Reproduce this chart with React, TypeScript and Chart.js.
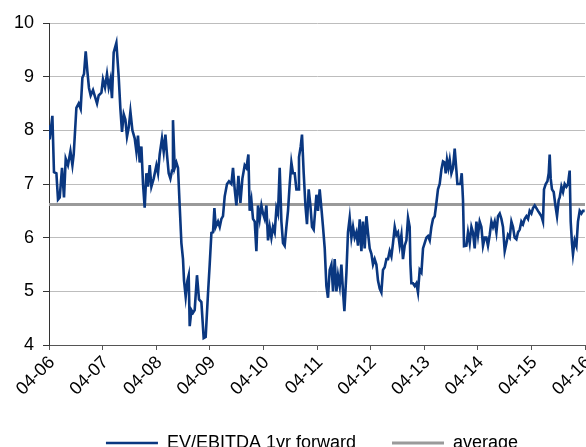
import React, { useEffect, useRef } from "react";
import { Chart, registerables } from "chart.js";

Chart.register(...registerables);

// Time in years since April 2006, and the forward EV/EBITDA multiple at that time.
const years: number[] = [
  0.0, 0.013, 0.063, 0.093, 0.138, 0.168, 0.2, 0.243, 0.28, 0.312, 0.354, 0.4, 0.437, 0.461, 0.511, 0.554,
  0.591, 0.623, 0.653, 0.685, 0.716, 0.746, 0.778, 0.821, 0.866, 0.896, 0.927, 0.978, 1.007, 1.045, 1.082,
  1.114, 1.146, 1.175, 1.207, 1.257, 1.3, 1.332, 1.362, 1.394, 1.425, 1.455, 1.487, 1.519, 1.556, 1.599,
  1.631, 1.66, 1.692, 1.724, 1.754, 1.785, 1.817, 1.847, 1.879, 1.91, 1.953, 2.004, 2.034, 2.065, 2.108,
  2.14, 2.172, 2.201, 2.233, 2.265, 2.295, 2.313, 2.345, 2.377, 2.407, 2.438, 2.47, 2.5, 2.519, 2.55, 2.582,
  2.606, 2.625, 2.657, 2.687, 2.718, 2.761, 2.799, 2.843, 2.886, 2.923, 2.966, 2.998, 3.03, 3.06, 3.086,
  3.11, 3.153, 3.185, 3.216, 3.246, 3.278, 3.321, 3.358, 3.403, 3.433, 3.465, 3.496, 3.534, 3.571, 3.608,
  3.651, 3.683, 3.72, 3.744, 3.776, 3.806, 3.838, 3.869, 3.899, 3.931, 3.963, 3.993, 4.024, 4.056, 4.086,
  4.118, 4.149, 4.179, 4.211, 4.243, 4.272, 4.304, 4.336, 4.366, 4.397, 4.429, 4.459, 4.491, 4.522, 4.552,
  4.584, 4.616, 4.646, 4.664, 4.696, 4.72, 4.752, 4.784, 4.813, 4.845, 4.877, 4.907, 4.938, 4.989, 5.019,
  5.05, 5.082, 5.112, 5.144, 5.175, 5.205, 5.237, 5.269, 5.299, 5.33, 5.362, 5.392, 5.424, 5.455, 5.485,
  5.511, 5.549, 5.578, 5.61, 5.642, 5.672, 5.703, 5.735, 5.765, 5.797, 5.828, 5.858, 5.89, 5.922, 5.951,
  5.983, 6.015, 6.045, 6.076, 6.108, 6.138, 6.17, 6.201, 6.231, 6.263, 6.295, 6.325, 6.356, 6.388, 6.418,
  6.45, 6.481, 6.511, 6.543, 6.575, 6.604, 6.636, 6.668, 6.698, 6.729, 6.743, 6.761, 6.791, 6.823, 6.854,
  6.884, 6.916, 6.948, 6.978, 7.009, 7.041, 7.071, 7.103, 7.134, 7.164, 7.196, 7.228, 7.257, 7.289, 7.321,
  7.351, 7.382, 7.401, 7.425, 7.451, 7.476, 7.507, 7.537, 7.569, 7.601, 7.619, 7.649, 7.675, 7.7, 7.724,
  7.743, 7.787, 7.817, 7.849, 7.881, 7.91, 7.942, 7.974, 8.004, 8.035, 8.067, 8.097, 8.129, 8.16, 8.19,
  8.222, 8.254, 8.284, 8.315, 8.347, 8.377, 8.409, 8.44, 8.47, 8.502, 8.534, 8.563, 8.595, 8.627, 8.657,
  8.688, 8.72, 8.75, 8.782, 8.813, 8.843, 8.875, 8.907, 8.937, 8.968, 9.0, 9.03, 9.062, 9.093, 9.123,
  9.155, 9.187, 9.216, 9.235, 9.267, 9.299, 9.323, 9.341, 9.36, 9.384, 9.416, 9.448, 9.478, 9.509, 9.528,
  9.56, 9.59, 9.621, 9.653, 9.683, 9.714, 9.733, 9.757, 9.776, 9.808, 9.84, 9.869, 9.901, 9.933, 9.963,
  9.994,
];

const evEbitda: number[] = [
  8.1, 7.83, 8.27, 7.22, 7.2, 6.71, 6.75, 7.3, 6.75, 7.47, 7.35, 7.61, 7.35, 7.55, 8.42, 8.5,
  8.4, 8.98, 9.05, 9.47, 9.1, 8.79, 8.65, 8.75, 8.6, 8.5, 8.65, 8.7, 8.95, 8.8, 9.05,
  8.8, 8.95, 8.6, 9.45, 9.63, 9.0, 8.4, 7.97, 8.3, 8.2, 7.88, 8.05, 8.35, 8.0, 7.85,
  7.6, 7.9, 7.4, 7.7, 7.0, 6.56, 7.2, 6.95, 7.35, 6.95, 7.1, 7.35, 7.2, 7.55, 7.85,
  7.6, 7.92, 7.55, 7.2, 7.1, 7.25, 8.19, 7.3, 7.4, 7.3, 6.6, 5.9, 5.6, 5.2, 4.9, 5.2,
  5.3, 4.35, 4.65, 4.6, 4.65, 5.3, 4.85, 4.8, 4.13, 4.15, 4.95, 5.5, 6.09, 6.1, 6.55,
  6.2, 6.3, 6.2, 6.35, 6.4, 6.77, 7.0, 7.05, 7.0, 7.3, 6.9, 6.6, 7.15, 6.65, 7.1,
  7.35, 7.3, 7.55, 6.5, 6.7, 6.35, 6.3, 5.75, 6.6, 6.35, 6.6, 6.45, 6.35, 6.6, 5.95,
  6.2, 6.0, 6.2, 6.1, 6.55, 6.45, 7.3, 6.3, 5.9, 5.85, 6.2, 6.5, 7.0, 7.4, 7.2,
  7.2, 6.9, 6.9, 7.5, 7.7, 7.92, 7.2, 6.6, 6.25, 6.9, 6.6, 6.2, 6.15, 6.8, 6.5,
  6.9, 6.55, 6.2, 5.8, 5.1, 4.88, 5.4, 5.5, 5.0, 5.6, 5.0, 5.3, 5.1, 5.5, 5.0,
  4.63, 5.35, 6.1, 6.37, 6.0, 6.2, 6.0, 6.1, 5.85, 6.34, 5.75, 6.3, 5.8, 6.4, 6.1,
  5.8, 5.7, 5.5, 5.6, 5.5, 5.2, 5.05, 4.98, 5.4, 5.45, 5.6, 5.6, 5.75, 5.65, 5.9,
  6.2, 6.05, 6.1, 5.85, 6.05, 5.6, 5.85, 5.95, 6.37, 6.2, 5.5, 5.15, 5.15, 5.1, 5.15,
  4.98, 5.4, 5.35, 5.8, 5.9, 6.0, 6.03, 5.95, 6.2, 6.35, 6.4, 6.65, 6.9, 7.0, 7.27,
  7.42, 7.4, 7.2, 7.45, 7.3, 7.45, 7.2, 7.3, 7.66, 7.25, 7.0, 7.0, 7.0, 7.2, 6.7,
  5.84, 5.85, 6.1, 5.9, 6.2, 6.1, 5.8, 6.3, 6.05, 6.3, 6.2, 5.85, 6.0, 6.0, 5.85,
  6.05, 6.3, 6.2, 6.3, 6.1, 6.4, 6.45, 6.35, 6.2, 5.75, 5.9, 6.05, 6.0, 6.3, 6.2,
  6.0, 5.97, 6.1, 6.15, 6.3, 6.25, 6.35, 6.4, 6.35, 6.5, 6.45, 6.55, 6.6, 6.55, 6.5,
  6.45, 6.4, 6.3, 6.9, 7.0, 7.05, 7.2, 7.55, 7.1, 6.9, 6.85, 6.6, 6.4, 6.7, 6.75,
  6.95, 6.85, 7.0, 6.95, 7.0, 7.25, 6.3, 5.9, 5.69, 5.95, 5.85, 6.3, 6.5, 6.45, 6.5,
  6.5,
];

// Long-run average of the multiple over the whole period.
const averageValue = 6.62;

// Axis tick labels, one per April from 2006 to 2016.
const yearLabels: string[] = [
  "04-06", "04-07", "04-08", "04-09", "04-10", "04-11", "04-12", "04-13", "04-14", "04-15", "04-16",
];

const seriesLabel = "EV/EBITDA 1yr forward";
const averageLabel = "average";

const FONT = "'Liberation Sans', Arial, sans-serif";

// Nudges the bottom legend a little to the left of the plot-area centre.
const legendShift = {
  id: "legendShift",
  afterLayout(chart: any) {
    const lg = chart.legend;
    if (lg) {
      lg.left -= 5;
      lg.right -= 5;
    }
  },
};

export default function App() {
  const canvasRef = useRef<HTMLCanvasElement | null>(null);

  useEffect(() => {
    const canvas = canvasRef.current;
    if (!canvas) return;

    const series = years.map((t, i) => ({ x: t, y: evEbitda[i] }));
    const avg = [
      { x: 0, y: averageValue },
      { x: yearLabels.length - 1, y: averageValue },
    ];

    const chart = new Chart(canvas, {
      type: "line",
      data: {
        datasets: [
          {
            label: seriesLabel,
            data: series,
            borderColor: "#0a3780",
            backgroundColor: "#0a3780",
            borderWidth: 2.6,
            pointRadius: 0,
            tension: 0,
            order: 1,
          },
          {
            label: averageLabel,
            data: avg,
            borderColor: "#9a9a9a",
            backgroundColor: "#9a9a9a",
            borderWidth: 3,
            pointRadius: 0,
            order: 2,
          },
        ],
      },
      options: {
        responsive: false,
        animation: false,
        events: [],
        layout: {
          autoPadding: false,
          padding: { top: 23, right: 1, left: 0, bottom: 0 },
        },
        scales: {
          x: {
            type: "linear",
            min: 0,
            max: yearLabels.length - 1,
            afterFit: (scale: any) => {
              scale.height = 53;
              scale.paddingLeft = 0;
              scale.paddingRight = 0;
            },
            afterBuildTicks: (scale: any) => {
              scale.ticks = yearLabels.map((_, i) => ({ value: i }));
            },
            ticks: {
              autoSkip: false,
              maxRotation: 45,
              minRotation: 45,
              padding: 2,
              labelOffset: 3,
              color: "#000",
              font: { family: FONT, size: 18 },
              callback: (v: any) => yearLabels[Math.round(Number(v))] ?? "",
            },
            grid: {
              drawOnChartArea: false,
              drawTicks: true,
              tickLength: 5,
              tickColor: "#555",
              lineWidth: 1,
            },
            border: { display: true, color: "#555", width: 1 },
          },
          y: {
            min: 4,
            max: 10,
            afterFit: (scale: any) => {
              scale.width = 49;
              scale.paddingTop = 0;
              scale.paddingBottom = 0;
            },
            ticks: {
              stepSize: 1,
              padding: 9,
              color: "#000",
              font: { family: FONT, size: 18 },
            },
            grid: {
              color: "#bdbdbd",
              lineWidth: 1,
              drawTicks: true,
              tickLength: 6,
              tickColor: "#333",
            },
            border: { display: true, color: "#333", width: 1 },
          },
        },
        plugins: {
          legend: {
            display: true,
            position: "bottom",
            fullSize: false,
            labels: {
              usePointStyle: true,
              pointStyle: "line",
              pointStyleWidth: 52,
              padding: 36,
              color: "#000",
              font: { family: FONT, size: 18 },
            },
          },
          tooltip: { enabled: false },
        },
      },
      plugins: [legendShift],
    });

    return () => chart.destroy();
  }, []);

  return (
    <div
      style={{
        position: "absolute",
        left: 0,
        top: 0,
        width: 586,
        height: 447,
        overflow: "hidden",
        background: "#fff",
      }}
    >
      <canvas ref={canvasRef} width={586} height={462} style={{ display: "block" }} />
    </div>
  );
}
